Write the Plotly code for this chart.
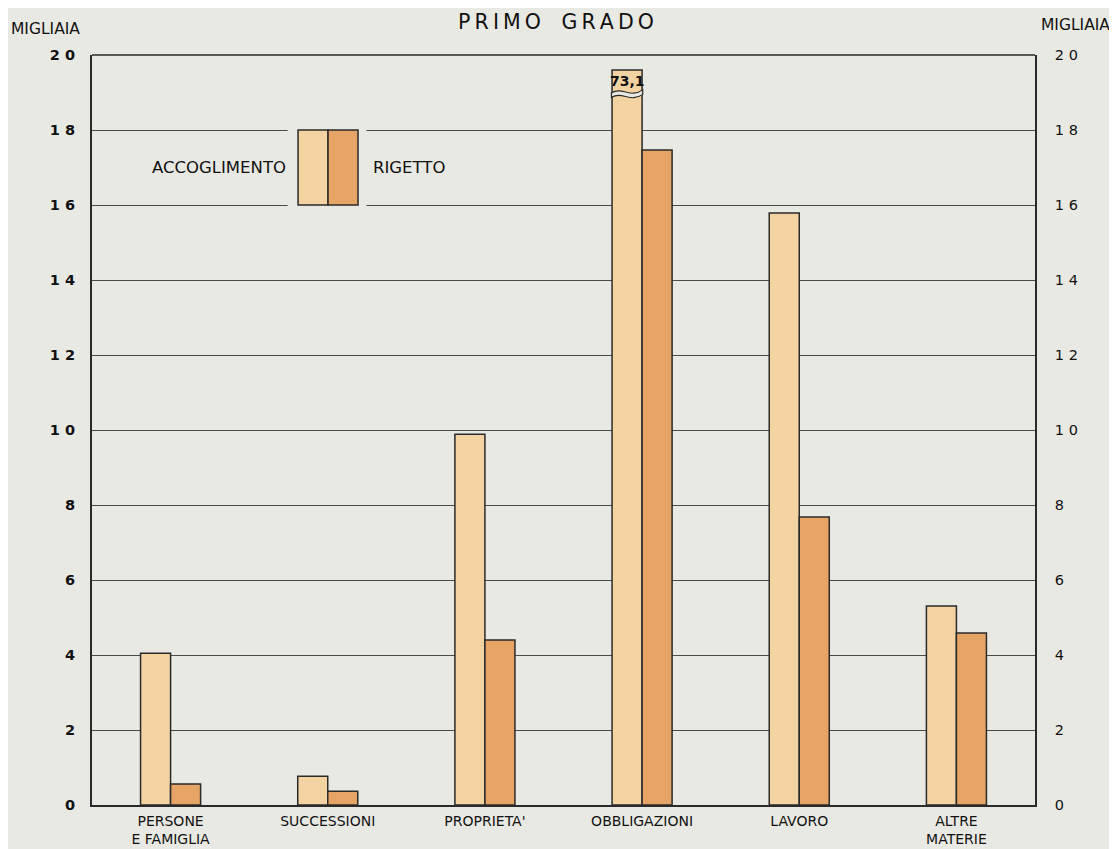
import plotly.graph_objects as go

categories = ["PERSONE<br>E FAMIGLIA", "SUCCESSIONI", "PROPRIETA'", "OBBLIGAZIONI", "LAVORO", "ALTRE<br>MATERIE"]
accoglimento = [4.05, 0.77, 9.89, 73.1, 15.79, 5.31]
rigetto = [0.56, 0.37, 4.40, 17.47, 7.68, 4.59]
tick_vals = [0, 2, 4, 6, 8, 10, 12, 14, 16, 18, 20]
tick_text = ["0", "2", "4", "6", "8", "1 0", "1 2", "1 4", "1 6", "1 8", "2 0"]
axis_cap = 19.6  # bars beyond the axis are drawn broken

BG = "#e9e9e3"
C_ACC = "#f4d3a2"
C_RIG = "#e6a566"
DARK = "#2a2a2a"
FONT = "DejaVu Sans"

acc_drawn = [min(v, axis_cap) for v in accoglimento]
acc_labels = ["" if v <= axis_cap else f"{v:.1f}".replace(".", ",") for v in accoglimento]

fig = go.Figure()
fig.add_trace(go.Bar(x=categories, y=acc_drawn, name="ACCOGLIMENTO",
                     marker=dict(color=C_ACC, line=dict(color=DARK, width=1.5)), offsetgroup="a"))
fig.add_trace(go.Bar(x=categories, y=rigetto, name="RIGETTO",
                     marker=dict(color=C_RIG, line=dict(color=DARK, width=1.5)), offsetgroup="b"))
# invisible trace for right axis
fig.add_trace(go.Scatter(x=[categories[0]], y=[0], yaxis="y2", mode="markers",
                         marker=dict(opacity=0), showlegend=False, hoverinfo="skip"))

bw = 0.382 / 2
for i, v in enumerate(accoglimento):
    if v > axis_cap:
        x0 = i - bw
        x1 = i
        yb = 18.93
        path = (f"M {x0-0.004},{yb-0.06} "
                f"C {x0+bw*0.35},{yb+0.12} {x0+bw*0.6},{yb-0.22} {x1+0.004},{yb+0.02} "
                f"L {x1+0.004},{yb+0.14} "
                f"C {x0+bw*0.6},{yb-0.10} {x0+bw*0.35},{yb+0.24} {x0-0.004},{yb+0.06} Z")
        fig.add_shape(type="path", path=path, xref="x", yref="y",
                      fillcolor=BG, line=dict(color=DARK, width=1.2), layer="above")
        fig.add_annotation(x=i - bw / 2, y=19.3, xref="x", yref="y", text=f"<b>{acc_labels[i]}</b>",
                           showarrow=False, font=dict(family=FONT, size=14, color="#111"))

# legend box
lx0, lxm, lx1 = 0.2185, 0.2503, 0.2821
fig.add_shape(type="rect", xref="paper", yref="y", x0=lx0 - 0.011, x1=lx1 + 0.009, y0=15.9, y1=18.1,
              fillcolor=BG, line=dict(width=0), layer="above")
fig.add_shape(type="rect", xref="paper", yref="y", x0=lx0, x1=lxm, y0=16, y1=18,
              fillcolor=C_ACC, line=dict(color=DARK, width=1.5), layer="above")
fig.add_shape(type="rect", xref="paper", yref="y", x0=lxm, x1=lx1, y0=16, y1=18,
              fillcolor=C_RIG, line=dict(color=DARK, width=1.5), layer="above")
fig.add_annotation(x=lx0 - 0.011, y=17, xref="paper", yref="y", text="ACCOGLIMENTO", xanchor="right",
                   showarrow=False, font=dict(family=FONT, size=16.5, color="#111"))
fig.add_annotation(x=lx1 + 0.014, y=17, xref="paper", yref="y", text="RIGETTO", xanchor="left",
                   showarrow=False, font=dict(family=FONT, size=16.5, color="#111"))

# axis titles
fig.add_annotation(x=-0.0875, y=1.02, xref="paper", yref="paper", text="MIGLIAIA", xanchor="left",
                   yanchor="bottom", showarrow=False, font=dict(family=FONT, size=15.5, color="#111"))
fig.add_annotation(x=1.0817, y=1.025, xref="paper", yref="paper", text="MIGLIAIA", xanchor="right",
                   yanchor="bottom", showarrow=False, font=dict(family=FONT, size=15.5, color="#111"))

ts = "\u2009"
title_text = ts.join("PRIMO") + "\u2003" + ts.join("GRADO")

fig.update_layout(
    width=1109, height=841,
    margin=dict(l=84, r=82, t=47, b=44),
    paper_bgcolor=BG, plot_bgcolor=BG,
    barmode="group", bargap=0.618, bargroupgap=0,
    showlegend=False,
    title=dict(text=title_text, x=(556 - 8) / 1109, xanchor="center", y=(841 - 7) / 841, yanchor="top",
               font=dict(family=FONT, size=20.5, color="#111")),
    font=dict(family=FONT, color="#111"),
    xaxis=dict(showgrid=False, showline=True, linecolor=DARK, linewidth=2, mirror=False, automargin=False,
               ticks="", ticklabelstandoff=2, tickfont=dict(family=FONT, size=14, color="#111"),
               range=[-0.5, 5.5]),
    yaxis=dict(range=[0, 20], tickvals=tick_vals, ticktext=[f"<b>{t}</b>" for t in tick_text], showgrid=True,
               gridcolor="#4a4a4a", gridwidth=1.3, showline=True, linecolor=DARK, linewidth=2,
               zeroline=False, ticks="", ticklabelstandoff=12, automargin=False,
               tickfont=dict(family=FONT, size=14.5, color="#111")),
    yaxis2=dict(range=[0, 20], tickvals=tick_vals, ticktext=tick_text, overlaying="y", side="right",
                showgrid=False, showline=True, linecolor=DARK, linewidth=1.8, zeroline=False, automargin=False,
                ticks="", ticklabelstandoff=15, tickfont=dict(family=FONT, size=14.5, color="#111")),
)
fig.add_shape(type="line", xref="paper", yref="paper", x0=0, x1=1, y0=1, y1=1,
              line=dict(color=DARK, width=1.5))

fig.write_html("out.html")
